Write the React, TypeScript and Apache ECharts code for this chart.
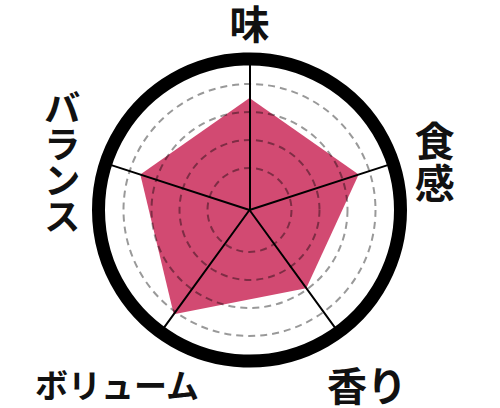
import React, { useEffect, useRef } from "react";
import * as echarts from "echarts";

// radar axes, counter-clockwise from the top (ECharts order)
const categories = ["味", "バランス", "ボリューム", "香り", "食感"];
const scores = [8.0, 8.2, 9.2, 6.9, 8.2];
const scoreMax = 10;
const gridSteps = [3, 5, 7, 9]; // dashed guide circles
const verticalNames = ["食感", "バランス"];
const nameStyleKey: Record<string, string> = {
  味: "big",
  食感: "side",
  香り: "big",
  ボリューム: "vol",
  バランス: "bal",
};

const FONT = '"Noto Sans CJK JP", "Noto Sans CJK SC", sans-serif';
const CENTER_X = 249.5;
const CENTER_Y = 210;

const App = function () {
  const chart = useRef<HTMLDivElement>(null);

  useEffect(() => {
    if (!chart.current) return;
    const myChart = echarts.init(chart.current, undefined, { renderer: "svg" });

    const gridColors: string[] = [];
    for (let i = 0; i <= scoreMax; i++) {
      gridColors.push(gridSteps.indexOf(i) >= 0 ? "rgba(0,0,0,0.4)" : "rgba(0,0,0,0)");
    }

    const formatName = (name: string) => {
      const key = nameStyleKey[name] || "big";
      if (verticalNames.indexOf(name) >= 0) {
        return name
          .split("")
          .map((c) => `{${key}|${c}}`)
          .join("\n");
      }
      return `{${key}|${name}}`;
    };

    const hidden = {
      axisLine: { show: false },
      axisTick: { show: false },
      axisLabel: { show: false },
      splitArea: { show: false },
    };

    const option = {
      animation: false,
      backgroundColor: "#fff",
      radar: [
        {
          // data radar with dashed guides
          center: [CENTER_X, CENTER_Y],
          radius: 140,
          shape: "circle",
          splitNumber: scoreMax,
          z: 3,
          indicator: categories.map((c) => ({ name: c, min: 0, max: scoreMax })),
          axisName: { show: false },
          ...hidden,
          splitLine: {
            show: true,
            lineStyle: { color: gridColors, width: 2, type: [7, 5] },
          },
        },
        {
          // thick outer ring and spokes
          center: [CENTER_X, CENTER_Y],
          radius: 151,
          shape: "circle",
          splitNumber: 1,
          z: 3,
          indicator: categories.map((c) => ({ name: c, min: 0, max: 1 })),
          axisName: { show: false },
          ...hidden,
          axisLine: { show: true, lineStyle: { color: "#000", width: 2 } },
          splitLine: {
            show: true,
            lineStyle: { color: ["rgba(0,0,0,0)", "#000"], width: 13 },
          },
        },
        {
          // axis names
          center: [CENTER_X, CENTER_Y + 12],
          radius: 151,
          shape: "circle",
          splitNumber: 1,
          axisNameGap: 49,
          indicator: categories.map((c) => ({ name: c, min: 0, max: 1 })),
          ...hidden,
          splitLine: { show: false },
          axisName: {
            show: true,
            color: "#111",
            align: "center",
            verticalAlign: "middle",
            fontFamily: FONT,
            fontWeight: "bold",
            formatter: formatName,
            rich: {
              big: { fontSize: 40, lineHeight: 40, fontFamily: FONT, fontWeight: "bold", color: "#111" },
              side: {
                fontSize: 40,
                lineHeight: 42,
                padding: [0, 10, 0, 0],
                fontFamily: FONT,
                fontWeight: "bold",
                color: "#111",
              },
              bal: {
                fontSize: 36,
                lineHeight: 36,
                padding: [0, 0, 0, 6],
                fontFamily: FONT,
                fontWeight: "bold",
                color: "#111",
              },
              vol: {
                fontSize: 33,
                lineHeight: 36,
                padding: [0, 30, 0, 0],
                fontFamily: FONT,
                fontWeight: "bold",
                color: "#111",
              },
            },
          },
        },
      ],
      series: [
        {
          type: "radar",
          radarIndex: 0,
          z: 2,
          symbol: "none",
          lineStyle: { width: 0 },
          areaStyle: { color: "#d24a72", opacity: 1 },
          data: [{ value: scores, name: "評価" }],
        },
      ],
    };
    myChart.setOption(option as any);
    return () => {
      myChart.dispose();
    };
  }, []);

  return (
    <div
      ref={chart}
      style={{ position: "fixed", left: 0, top: 0, width: 500, height: 408 }}
    ></div>
  );
};

export default App;
